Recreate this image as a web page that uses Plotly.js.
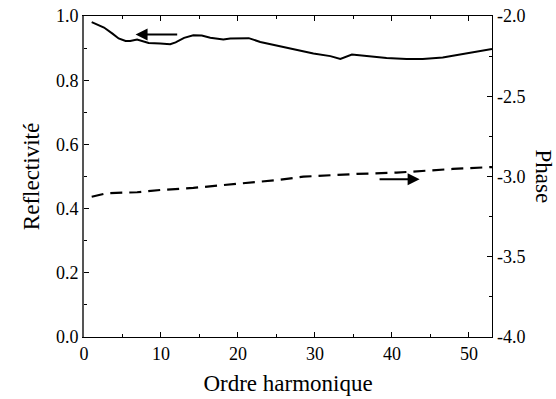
<!DOCTYPE html>
<html>
<head>
<meta charset="utf-8">
<script src="https://cdn.plot.ly/plotly-3.0.1.min.js"></script>
<style>html,body{margin:0;padding:0;background:#fff;}</style>
</head>
<body>
<div id="chart" style="width:556px;height:399px;"></div>
<script>
const harmonicR = [1.0, 2.6, 3.7, 4.5, 5.4, 6.0, 6.9, 7.6, 8.4, 9.9, 11.2, 11.9, 13.0, 14.2, 15.3, 16.4, 18.1, 19.0, 20.5, 21.4, 22.9, 25.1, 27.2, 29.8, 32.0, 33.3, 34.8, 36.7, 39.3, 41.9, 44.0, 46.6, 49.2, 51.4, 53.0];
const reflectivity = [0.981, 0.964, 0.945, 0.930, 0.922, 0.922, 0.927, 0.922, 0.916, 0.914, 0.912, 0.918, 0.932, 0.940, 0.939, 0.932, 0.927, 0.930, 0.930, 0.931, 0.919, 0.907, 0.896, 0.883, 0.875, 0.866, 0.880, 0.875, 0.869, 0.866, 0.866, 0.871, 0.881, 0.890, 0.897];
const harmonicP = [1.0, 3.0, 6.9, 9.9, 14.2, 18.6, 22.0, 25.1, 28.5, 29.8, 35.4, 40.6, 44.0, 47.9, 53.0];
const phase = [-3.126, -3.104, -3.098, -3.084, -3.071, -3.053, -3.036, -3.022, -3.001, -2.997, -2.984, -2.976, -2.964, -2.953, -2.941];
const leftTicks = [0, 0.2, 0.4, 0.6, 0.8, 1.0];
const leftTickText = ["0.0", "0.2", "0.4", "0.6", "0.8", "1.0"];
const rightTicks = [-4.0, -3.5, -3.0, -2.5, -2.0];
const rightTickText = ["-4.0", "-3.5", "-3.0", "-2.5", "-2.0"];
const xTicks = [0, 10, 20, 30, 40, 50];

const font = "Liberation Serif";
function axisCommon() {
  return {
    showline: true, linecolor: '#000', linewidth: 1.4,
    ticks: 'inside', ticklen: 5, tickwidth: 1, tickcolor: '#000',
    showgrid: false, zeroline: false,
    tickfont: {family: font, size: 18, color: '#000'}
  };
}

const traces = [
  {x: harmonicR, y: reflectivity, type: 'scatter', mode: 'lines',
   line: {color: '#000', width: 2}, xaxis: 'x', yaxis: 'y', hoverinfo: 'skip'},
  {x: harmonicP, y: phase, type: 'scatter', mode: 'lines',
   line: {color: '#000', width: 2.2, dash: '12px,7px'}, xaxis: 'x', yaxis: 'y2', hoverinfo: 'skip'}
];

const layout = {
  width: 556, height: 399,
  margin: {l: 84, r: 64, t: 16, b: 62},
  paper_bgcolor: '#fff', plot_bgcolor: '#fff',
  font: {family: font, color: '#000'},
  showlegend: false,
  xaxis: Object.assign(axisCommon(), {
    range: [0, 53], tickvals: xTicks, mirror: 'ticks',
    minor: {dtick: 5, tick0: 0, ticks: 'inside', ticklen: 3, tickcolor: '#000'},
    title: {text: 'Ordre harmonique', font: {family: font, size: 23, color: '#000'}, standoff: 12}
  }),
  yaxis: Object.assign(axisCommon(), {
    range: [0, 1.0], tickvals: leftTicks, ticktext: leftTickText,
    linecolor: '#555', linewidth: 2,
    minor: {dtick: 0.1, tick0: 0, ticks: 'inside', ticklen: 3, tickcolor: '#000'},
    title: {text: 'Reflectivité', font: {family: font, size: 23, color: '#000'}, standoff: 10}
  }),
  yaxis2: Object.assign(axisCommon(), {
    range: [-4.0, -2.0], tickvals: rightTicks, ticktext: rightTickText,
    overlaying: 'y', side: 'right',
    minor: {dtick: 0.25, tick0: -4, ticks: 'inside', ticklen: 3, tickcolor: '#000'}
  }),
  annotations: [
    {x: 6.7, y: 0.942, xref: 'x', yref: 'y', ax: 12.3, ay: 0.942, axref: 'x', ayref: 'y',
     showarrow: true, arrowhead: 2, arrowsize: 1.2, arrowwidth: 2, arrowcolor: '#000', text: ''},
    {x: 43.6, y: -3.017, xref: 'x', yref: 'y2', ax: 38.2, ay: -3.017, axref: 'x', ayref: 'y2',
     showarrow: true, arrowhead: 2, arrowsize: 1.2, arrowwidth: 2, arrowcolor: '#000', text: ''},
    {x: 1, xref: 'paper', xshift: 51, xanchor: 'center', y: 0.5, yref: 'paper', yanchor: 'middle',
     text: 'Phase', textangle: 90, showarrow: false,
     font: {family: font, size: 23, color: '#000'}}
  ]
};

Plotly.newPlot('chart', traces, layout, {displayModeBar: false, staticPlot: true});
</script>
</body>
</html>
